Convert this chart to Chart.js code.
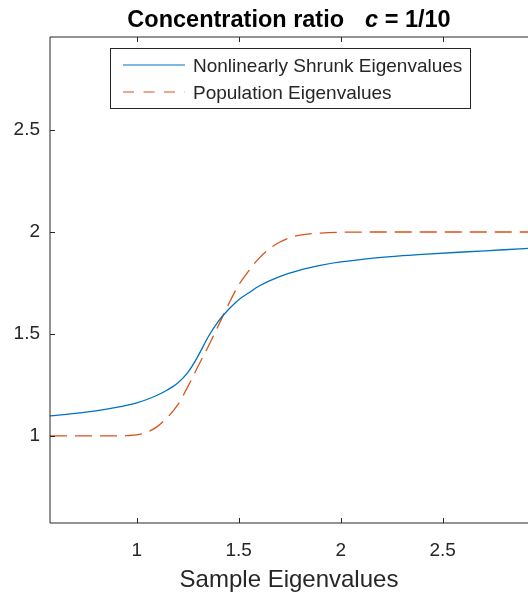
<!DOCTYPE html>
<html><head><meta charset="utf-8">
<script src="https://cdn.jsdelivr.net/npm/chart.js@4/dist/chart.umd.min.js"></script>
<style>html,body{margin:0;padding:0;background:#fff;overflow:hidden;}</style>
</head><body>
<canvas id="c" width="528" height="595" style="display:block;width:528px;height:595px"></canvas>
<script>
// ---- data ----
const shrunkX = [0.575, 0.7, 0.8, 0.9, 1.0, 1.05, 1.1, 1.15, 1.2, 1.25, 1.3, 1.35, 1.4, 1.45, 1.5, 1.55, 1.6, 1.7, 1.8, 1.9, 2.0, 2.2, 2.4, 2.6, 2.8, 2.92];
const shrunkY = [1.098, 1.11, 1.122, 1.139, 1.162, 1.178, 1.199, 1.225, 1.258, 1.31, 1.39, 1.485, 1.562, 1.62, 1.668, 1.702, 1.735, 1.781, 1.813, 1.836, 1.853, 1.876, 1.89, 1.902, 1.913, 1.92];
const popX = [0.575, 0.7, 0.8, 0.9, 0.95, 1.0, 1.05, 1.1, 1.15, 1.2, 1.25, 1.3, 1.35, 1.4, 1.45, 1.5, 1.55, 1.6, 1.65, 1.7, 1.75, 1.8, 1.9, 2.0, 2.2, 2.5, 2.92];
const popY = [1.0, 1.0, 1.0, 1.0, 1.001, 1.004, 1.017, 1.045, 1.09, 1.15, 1.24, 1.34, 1.437, 1.54, 1.645, 1.74, 1.81, 1.872, 1.918, 1.95, 1.972, 1.985, 1.995, 1.999, 2.0, 2.0, 2.0];
const xTicks = [1, 1.5, 2, 2.5];
const yTicks = [1, 1.5, 2, 2.5];
const seriesNames = ['Nonlinearly Shrunk Eigenvalues', 'Population Eigenvalues'];
const xLabel = 'Sample Eigenvalues';
const titleParts = [['Concentration ratio', false, 21], ['c', true, 0], [' = 1/10', false, 0]];

const BLUE = '#0072BD', RED = '#D95319', AX = '#262626';
const FONT = '"Liberation Sans", Arial, Helvetica, sans-serif';

const decor = {
  id: 'decor',
  afterDatasetsDraw(chart) {
    const {ctx, chartArea: a, scales: {x, y}} = chart;
    ctx.save();
    // axes lines
    ctx.strokeStyle = AX; ctx.lineWidth = 1;
    ctx.beginPath();
    ctx.moveTo(a.left, a.top); ctx.lineTo(a.left, a.bottom);
    ctx.moveTo(a.left, a.bottom); ctx.lineTo(a.right, a.bottom);
    ctx.moveTo(a.left, a.top); ctx.lineTo(a.right, a.top);
    // inward ticks
    const tl = 5;
    xTicks.forEach(v => {
      const px = Math.round(x.getPixelForValue(v)) + 0.5;
      ctx.moveTo(px, a.bottom); ctx.lineTo(px, a.bottom - tl);
      ctx.moveTo(px, a.top); ctx.lineTo(px, a.top + tl);
    });
    yTicks.forEach(v => {
      const py = Math.round(y.getPixelForValue(v)) + 0.5;
      ctx.moveTo(a.left, py); ctx.lineTo(a.left + tl, py);
    });
    ctx.stroke();

    // title
    const tfs = 23.5;
    let total = 0;
    titleParts.forEach(([t, it, gap]) => {
      ctx.font = (it ? 'italic ' : '') + 'bold ' + tfs + 'px ' + FONT;
      total += ctx.measureText(t).width + gap;
    });
    let tx = (a.left + a.right) / 2 - total / 2;
    ctx.fillStyle = '#000'; ctx.textBaseline = 'alphabetic'; ctx.textAlign = 'left';
    titleParts.forEach(([t, it, gap]) => {
      ctx.font = (it ? 'italic ' : '') + 'bold ' + tfs + 'px ' + FONT;
      ctx.fillText(t, tx, 27);
      tx += ctx.measureText(t).width + gap;
    });

    // legend
    const lx = 110.5, ly = 48.5, lw = 360, lh = 60;
    ctx.fillStyle = '#fff';
    ctx.fillRect(lx, ly, lw, lh);
    ctx.strokeStyle = AX; ctx.lineWidth = 1;
    ctx.strokeRect(lx, ly, lw, lh);
    const rows = [[65, BLUE, []], [92, RED, [11, 9.5]]];
    rows.forEach(([ry, col, dash], i) => {
      ctx.beginPath();
      ctx.setLineDash(dash);
      ctx.strokeStyle = col; ctx.lineWidth = 1.2;
      ctx.moveTo(123, ry); ctx.lineTo(185, ry);
      ctx.stroke();
      ctx.setLineDash([]);
      ctx.fillStyle = AX;
      ctx.font = '19px ' + FONT;
      ctx.textBaseline = 'middle';
      ctx.fillText(seriesNames[i], 193, ry + 1.5);
    });
    ctx.restore();
  }
};

new Chart(document.getElementById('c'), {
  type: 'line',
  data: {
    datasets: [
      { label: seriesNames[0], data: shrunkX.map((v, i) => ({x: v, y: shrunkY[i]})),
        borderColor: BLUE, borderWidth: 1.3, pointRadius: 0, cubicInterpolationMode: 'monotone', fill: false },
      { label: seriesNames[1], data: popX.map((v, i) => ({x: v, y: popY[i]})),
        borderColor: RED, borderWidth: 1.3, borderDash: [17, 8], pointRadius: 0, cubicInterpolationMode: 'monotone', fill: false }
    ]
  },
  options: {
    responsive: false, animation: false, devicePixelRatio: 1,
    layout: { padding: { top: 37, right: 0, left: 0, bottom: 0 } },
    plugins: { legend: { display: false }, title: { display: false }, tooltip: { enabled: false } },
    scales: {
      x: {
        type: 'linear', min: 0.575, max: 2.918,
        afterBuildTicks: s => { s.ticks = xTicks.map(v => ({value: v})); },
        afterFit: s => { s.height = 72; },
        grid: { display: false }, border: { display: false },
        ticks: { color: AX, font: { family: FONT, size: 19 }, padding: 8, maxRotation: 0, callback: v => String(v) },
        title: { display: true, text: xLabel, color: AX, font: { family: FONT, size: 24 }, padding: { top: 2, bottom: 0 } }
      },
      y: {
        type: 'linear', min: 0.572, max: 2.957,
        afterBuildTicks: s => { s.ticks = yTicks.map(v => ({value: v})); },
        afterFit: s => { s.width = 50; },
        grid: { display: false }, border: { display: false },
        ticks: { color: AX, font: { family: FONT, size: 19 }, padding: 2, callback: v => String(v) }
      }
    }
  },
  plugins: [decor]
});
</script>
</body></html>
